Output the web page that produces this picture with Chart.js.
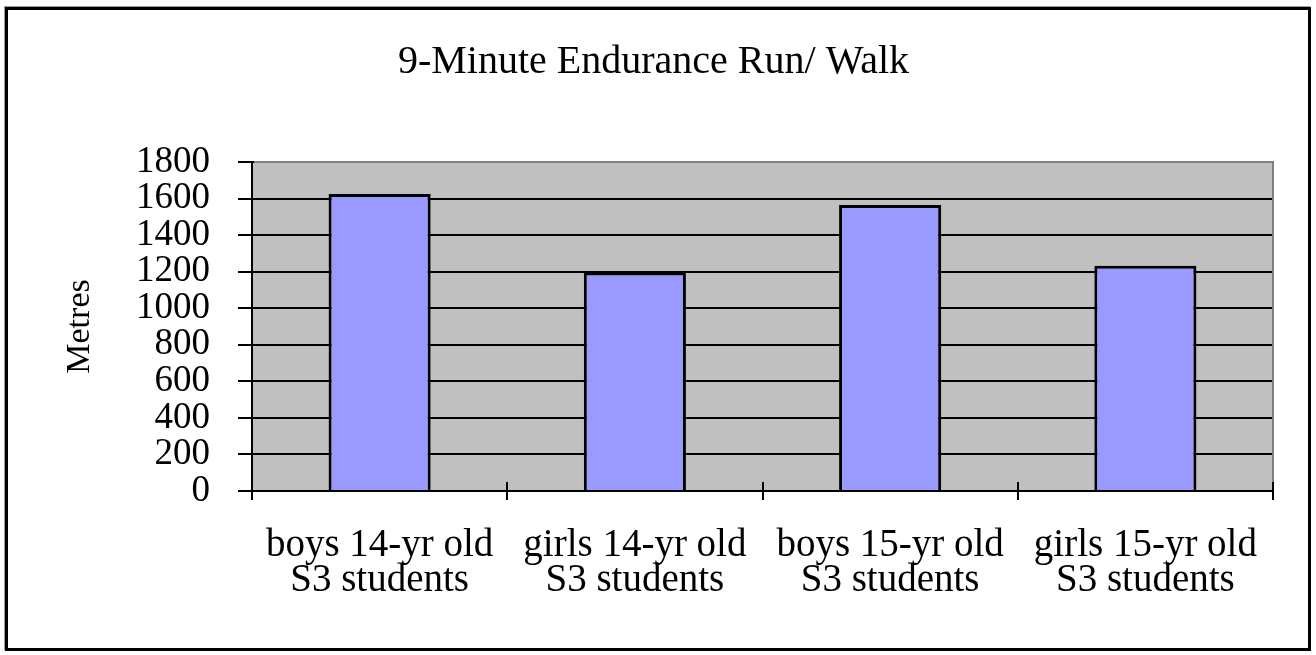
<!DOCTYPE html>
<html>
<head>
    <title>9-Minute Endurance Run/ Walk</title>
    <script src="https://cdn.jsdelivr.net/npm/chart.js"></script>
    <style>
        body { margin: 0; background: #fff; }
        .frame {
            position: absolute; left: 5px; top: 7px;
            width: 1300px; height: 638px;
            border: 3px solid #000;
            box-shadow: -1px -1px 0 #999;
        }
        .wrap { position: absolute; left: 0; top: 0; width: 1316px; height: 655px; }
    </style>
</head>
<body>
    <div class="frame"></div>
    <div class="wrap"><canvas id="runChart" width="1316" height="655"></canvas></div>

    <script>
        // values
        const categories = [
            ['boys 14-yr old', 'S3 students'],
            ['girls 14-yr old', 'S3 students'],
            ['boys 15-yr old', 'S3 students'],
            ['girls 15-yr old', 'S3 students']
        ];
        const metres = [1625, 1195, 1565, 1233];
        const yTicks = [0, 200, 400, 600, 800, 1000, 1200, 1400, 1600, 1800];

        const serif = "'Liberation Serif', 'Times New Roman', serif";

        // grey plot background, grey top/right frame, ticks crossing the x axis
        const plotDecor = {
            id: 'plotDecor',
            beforeDraw(chart) {
                const { ctx, chartArea: a } = chart;
                ctx.save();
                ctx.fillStyle = '#C0C0C0';
                ctx.fillRect(a.left, a.top, a.right - a.left, a.bottom - a.top);
                ctx.restore();
            },
            afterDraw(chart) {
                const { ctx, chartArea: a } = chart;
                const xs = chart.scales.x;
                ctx.save();
                ctx.strokeStyle = '#808080';
                ctx.lineWidth = 2;
                ctx.beginPath();
                ctx.moveTo(a.left + 2, a.top);
                ctx.lineTo(a.right, a.top);
                ctx.lineTo(a.right, a.bottom - 1);
                ctx.stroke();
                ctx.strokeStyle = '#000';
                ctx.beginPath();
                const n = categories.length;
                for (let i = 1; i <= n; i++) {
                    const x = Math.round(xs.left + i * xs.width / n);
                    ctx.moveTo(x, a.bottom - 9);
                    ctx.lineTo(x, a.bottom);
                }
                ctx.stroke();
                ctx.restore();
            }
        };

        new Chart(document.getElementById('runChart'), {
            type: 'bar',
            data: {
                labels: categories,
                datasets: [{
                    data: metres,
                    backgroundColor: '#9999FF',
                    borderColor: '#000',
                    borderWidth: 3,
                    categoryPercentage: 0.4,
                    barPercentage: 1
                }]
            },
            options: {
                responsive: false,
                animation: false,
                layout: { padding: { left: 34, right: 43, top: 0, bottom: 0 } },
                plugins: {
                    legend: { display: false },
                    tooltip: { enabled: false },
                    title: {
                        display: true,
                        text: '9-Minute Endurance Run/ Walk',
                        color: '#000',
                        font: { family: serif, size: 40, weight: 'normal' },
                        padding: { top: 38, bottom: 76 }
                    }
                },
                scales: {
                    x: {
                        afterFit(scale) { scale.height = 164; },
                        grid: {
                            display: true,
                            offset: true,
                            drawOnChartArea: false,
                            tickLength: 9,
                            color: '#000',
                            lineWidth: 2
                        },
                        border: { color: '#000', width: 2 },
                        ticks: {
                            color: '#000',
                            padding: 28,
                            maxRotation: 0,
                            autoSkip: false,
                            font: { family: serif, size: 39, lineHeight: 0.9 }
                        }
                    },
                    y: {
                        min: 0,
                        max: 1800,
                        afterFit(scale) { scale.width = 218; },
                        afterBuildTicks(scale) { scale.ticks = yTicks.map(v => ({ value: v })); },
                        grid: { color: '#000', lineWidth: 2, tickLength: 14 },
                        border: { color: '#000', width: 2 },
                        ticks: {
                            color: '#000',
                            padding: 28,
                            autoSkip: false,
                            callback: v => String(v),
                            font: { family: serif, size: 37, lineHeight: 1 }
                        },
                        title: {
                            display: true,
                            text: 'Metres',
                            color: '#000',
                            padding: { top: 26, bottom: 0 },
                            font: { family: serif, size: 34 }
                        }
                    }
                }
            },
            plugins: [plotDecor]
        });
    </script>
</body>
</html>
